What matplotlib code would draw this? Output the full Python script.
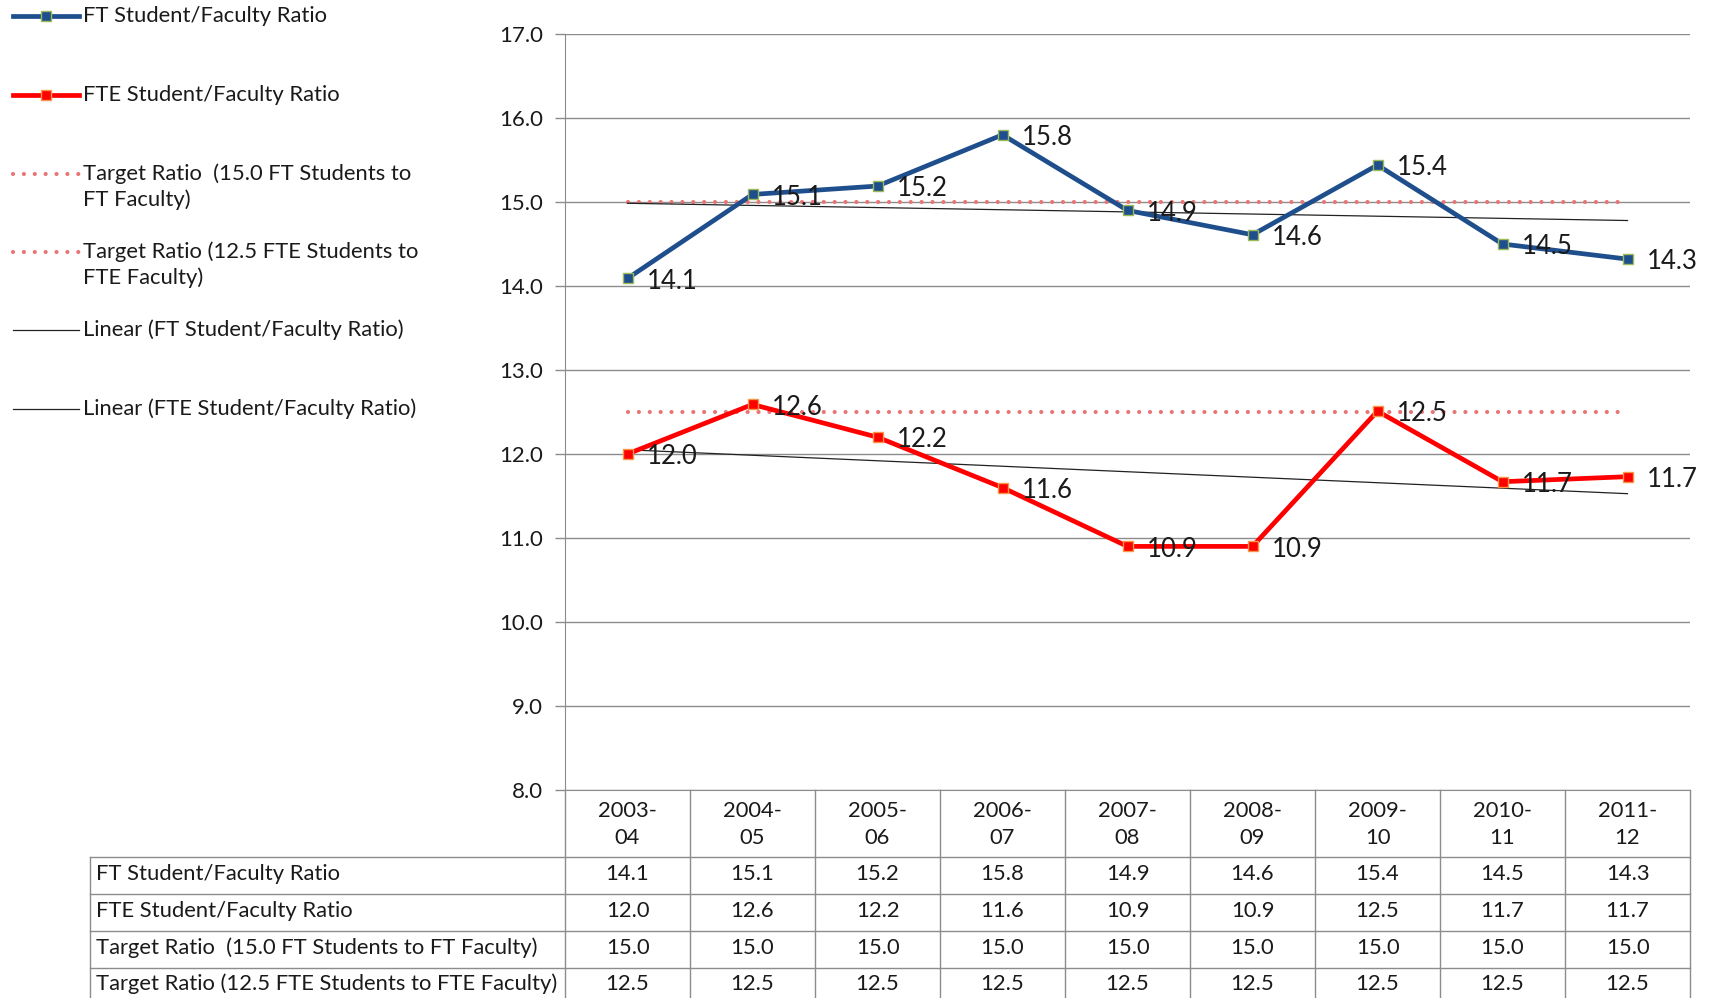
import matplotlib
matplotlib.use("Agg")
import matplotlib.pyplot as plt
from matplotlib.lines import Line2D
from matplotlib.transforms import blended_transform_factory
import numpy as np

plt.rcParams['font.family'] = ['Lato', 'DejaVu Sans']

# data
years = ["2003-\n04", "2004-\n05", "2005-\n06", "2006-\n07", "2007-\n08",
         "2008-\n09", "2009-\n10", "2010-\n11", "2011-\n12"]
ft_ratio = [14.09, 15.09, 15.19, 15.80, 14.90, 14.61, 15.44, 14.50, 14.32]
fte_ratio = [12.00, 12.59, 12.20, 11.60, 10.90, 10.90, 12.51, 11.67, 11.73]
ft_target = [15.0] * 9
fte_target = [12.5] * 9

row_names = ["FT Student/Faculty Ratio",
             "FTE Student/Faculty Ratio",
             "Target Ratio  (15.0 FT Students to FT Faculty)",
             "Target Ratio (12.5 FTE Students to FTE Faculty)"]
legend_names = ["FT Student/Faculty Ratio",
                "FTE Student/Faculty Ratio",
                "Target Ratio  (15.0 FT Students to\nFT Faculty)",
                "Target Ratio (12.5 FTE Students to\nFTE Faculty)",
                "Linear (FT Student/Faculty Ratio)",
                "Linear (FTE Student/Faculty Ratio)"]

W, H = 1713, 998
BLUE = "#1F4E8C"
RED = "#FF0000"
PINK = "#E87575"
GRID = "#8C8C8C"
TXT = "#1a1a1a"
FS = 15.8
DOTS = (0, (0.01, 2.6))


def fx(px):
    return px / W


def fy(px):
    return 1 - px / H


fig = plt.figure(figsize=(W / 100, H / 100), dpi=100)
ax = fig.add_axes([fx(565), fy(790), fx(1690 - 565), (790 - 34) / H])

x = np.arange(len(years))

# target lines
ax.plot(x, ft_target, color=PINK, lw=3.0, ls=DOTS, dash_capstyle='round', zorder=2)
ax.plot(x, fte_target, color=PINK, lw=3.0, ls=DOTS, dash_capstyle='round', zorder=2)

# linear trend lines
for series in (ft_ratio, fte_ratio):
    k, b = np.polyfit(x, series, 1)
    ax.plot(x, k * x + b, color="#222222", lw=0.9, zorder=3)

# the two series
ax.plot(x, ft_ratio, color=BLUE, lw=3.4, marker='s', ms=7, mfc=BLUE,
        mec="#9BBB59", mew=1.0, zorder=4)
ax.plot(x, fte_ratio, color=RED, lw=3.4, marker='s', ms=7, mfc=RED,
        mec="#F79646", mew=1.0, zorder=4)

for series in (ft_ratio, fte_ratio):
    for xi, v in zip(x, series):
        ax.annotate(f"{v:.1f}", (xi, v), xytext=(14, -2), textcoords='offset points',
                    ha='left', va='center', fontsize=18.5, color=TXT, zorder=5)

ax.set_xlim(-0.5, len(years) - 0.5)
ax.set_ylim(8, 17)
ax.set_yticks(np.arange(8, 18, 1))
ax.set_yticklabels([f"{t:.1f}" for t in np.arange(8, 18, 1)])
ax.yaxis.grid(True, color=GRID, lw=1.0)
ax.set_axisbelow(True)
ax.set_xticks([])
for s in ("top", "right"):
    ax.spines[s].set_visible(False)
ax.spines["left"].set_color(GRID)
ax.spines["bottom"].set_color(GRID)
ax.tick_params(axis='y', length=7, width=1, color=GRID, pad=9, labelsize=16, labelcolor=TXT)

# data table under the plot
tr = blended_transform_factory(ax.transData, fig.transFigure)
row_edges = [790, 857, 894, 931, 968, 1010]
left_edge = -0.5 - (565 - 90) / 125.0
lkw = dict(color=GRID, lw=1.0, clip_on=False)

for xb in np.arange(-0.5, len(years), 1.0):
    fig.add_artist(Line2D([xb, xb], [fy(row_edges[0]), fy(row_edges[-1])], transform=tr, **lkw))
fig.add_artist(Line2D([left_edge, left_edge], [fy(row_edges[1]), fy(row_edges[-1])], transform=tr, **lkw))
for yb in row_edges[1:-1]:
    fig.add_artist(Line2D([left_edge, len(years) - 0.5], [fy(yb), fy(yb)], transform=tr, **lkw))

for xi, lab in zip(x, years):
    top, bottom = lab.split("\n")
    fig.text(xi, fy(811), top, transform=tr, ha='center', va='center', fontsize=FS, color=TXT)
    fig.text(xi, fy(838), bottom, transform=tr, ha='center', va='center', fontsize=FS, color=TXT)

table_rows = [ft_ratio, fte_ratio, ft_target, fte_target]
row_centers = [874, 911, 948, 984]
for name, vals, yc in zip(row_names, table_rows, row_centers):
    fig.text(left_edge + 0.045, fy(yc), name, transform=tr, ha='left', va='center',
             fontsize=FS, color=TXT)
    for xi, v in zip(x, vals):
        fig.text(xi, fy(yc), f"{v:.1f}", transform=tr, ha='center', va='center',
                 fontsize=FS, color=TXT)

# legend on the left
leg_y = [16, 95, 174, 252, 330, 409]
handles = [
    dict(color=BLUE, lw=3.4, marker='s', ms=7, mfc=BLUE, mec="#9BBB59", markevery=[1]),
    dict(color=RED, lw=3.4, marker='s', ms=7, mfc=RED, mec="#F79646", markevery=[1]),
    dict(color=PINK, lw=3.0, ls=DOTS, dash_capstyle='round'),
    dict(color=PINK, lw=3.0, ls=DOTS, dash_capstyle='round'),
    dict(color="#222222", lw=0.9),
    dict(color="#222222", lw=0.9),
]
for name, yy, hk in zip(legend_names, leg_y, handles):
    fig.add_artist(Line2D([fx(13), fx(46), fx(79)], [fy(yy)] * 3,
                          transform=fig.transFigure, **hk))
    for i, line in enumerate(name.split("\n")):
        fig.text(fx(83), fy(yy + 26 * i), line, ha='left', va='center',
                 fontsize=FS, color=TXT)

fig.savefig("out.png", dpi=100, facecolor="white")
